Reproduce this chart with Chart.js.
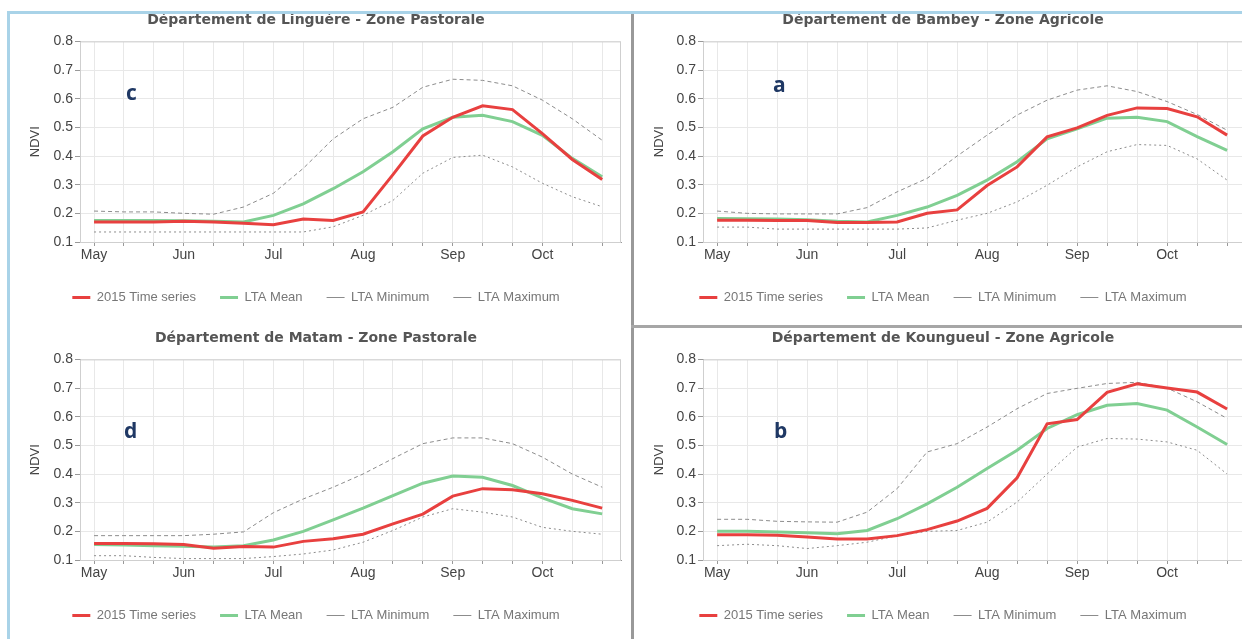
<!DOCTYPE html>
<html>
<head>
<meta charset="utf-8">
<script src="https://cdn.jsdelivr.net/npm/chart.js@4.4.1/dist/chart.umd.min.js"></script>
<style>
  html, body { margin: 0; padding: 0; background: #fff; }
  body { width: 1242px; height: 639px; position: relative; overflow: hidden; }
  canvas { position: absolute; }
  .line { position: absolute; z-index: 5; }
  .tag { position: absolute; z-index: 6; font: bold 21px "Open Sans", sans-serif; color: #1f3864; line-height: 1; }
</style>
</head>
<body>
<canvas id="chart-c" width="632" height="320" style="left:0;top:0"></canvas>
<canvas id="chart-a" width="614" height="320" style="left:636px;top:0"></canvas>
<canvas id="chart-d" width="632" height="320" style="left:0;top:318px"></canvas>
<canvas id="chart-b" width="614" height="320" style="left:636px;top:318px"></canvas>

<div class="line" style="left:7px;top:11px;width:1235px;height:3px;background:#a9d3e8"></div>
<div class="line" style="left:7px;top:11px;width:3px;height:628px;background:#a9d3e8"></div>
<div class="line" style="left:631px;top:14px;width:3px;height:625px;background:#999"></div>
<div class="line" style="left:631px;top:325px;width:611px;height:3px;background:#a6a6a6"></div>

<div class="tag" style="left:126px;top:82px">c</div>
<div class="tag" style="left:773px;top:74px">a</div>
<div class="tag" style="left:124px;top:420px">d</div>
<div class="tag" style="left:774px;top:420px">b</div>

<script>
// dekads May 1 .. Oct 21
var dekads = ['May 1', 'May 11', 'May 21', 'Jun 1', 'Jun 11', 'Jun 21', 'Jul 1', 'Jul 11', 'Jul 21',
              'Aug 1', 'Aug 11', 'Aug 21', 'Sep 1', 'Sep 11', 'Sep 21', 'Oct 1', 'Oct 11', 'Oct 21'];
var monthTicks = ['May', 'Jun', 'Jul', 'Aug', 'Sep', 'Oct'];
var seriesNames = ['2015 Time series', 'LTA Mean', 'LTA Minimum', 'LTA Maximum'];

// Linguere - Zone Pastorale (c)
var linguereTS   = [0.17, 0.17, 0.17, 0.172, 0.17, 0.165, 0.16, 0.18, 0.175, 0.205, 0.335, 0.47, 0.535, 0.575, 0.562, 0.478, 0.388, 0.318];
var linguereMean = [0.175, 0.175, 0.175, 0.174, 0.172, 0.17, 0.193, 0.233, 0.286, 0.345, 0.415, 0.495, 0.535, 0.542, 0.52, 0.472, 0.392, 0.328];
var linguereMin  = [0.135, 0.135, 0.135, 0.135, 0.135, 0.135, 0.135, 0.135, 0.153, 0.193, 0.245, 0.34, 0.395, 0.403, 0.362, 0.305, 0.258, 0.223];
var linguereMax  = [0.208, 0.205, 0.205, 0.2, 0.197, 0.222, 0.27, 0.357, 0.46, 0.53, 0.57, 0.64, 0.668, 0.664, 0.645, 0.595, 0.53, 0.455];

// Bambey - Zone Agricole (a)
var bambeyTS   = [0.176, 0.176, 0.175, 0.175, 0.168, 0.168, 0.17, 0.2, 0.212, 0.297, 0.362, 0.467, 0.498, 0.542, 0.568, 0.566, 0.537, 0.473];
var bambeyMean = [0.182, 0.181, 0.18, 0.178, 0.172, 0.17, 0.193, 0.222, 0.263, 0.316, 0.38, 0.46, 0.495, 0.532, 0.535, 0.52, 0.468, 0.42];
var bambeyMin  = [0.152, 0.152, 0.145, 0.145, 0.145, 0.145, 0.145, 0.149, 0.176, 0.2, 0.24, 0.298, 0.362, 0.415, 0.44, 0.437, 0.39, 0.316];
var bambeyMax  = [0.208, 0.2, 0.198, 0.198, 0.198, 0.22, 0.275, 0.322, 0.4, 0.473, 0.543, 0.595, 0.63, 0.645, 0.625, 0.59, 0.545, 0.49];

// Matam - Zone Pastorale (d)
var matamTS   = [0.158, 0.158, 0.157, 0.154, 0.141, 0.147, 0.145, 0.165, 0.174, 0.19, 0.226, 0.26, 0.323, 0.349, 0.345, 0.331, 0.308, 0.281];
var matamMean = [0.154, 0.152, 0.15, 0.148, 0.145, 0.15, 0.17, 0.2, 0.24, 0.281, 0.325, 0.368, 0.393, 0.389, 0.36, 0.317, 0.279, 0.261];
var matamMin  = [0.115, 0.115, 0.109, 0.105, 0.105, 0.105, 0.112, 0.121, 0.135, 0.162, 0.203, 0.25, 0.279, 0.267, 0.25, 0.214, 0.2, 0.19];
var matamMax  = [0.185, 0.185, 0.185, 0.185, 0.19, 0.198, 0.265, 0.313, 0.354, 0.4, 0.454, 0.506, 0.526, 0.526, 0.506, 0.459, 0.4, 0.354];

// Koungueul - Zone Agricole (b)
var koungueulTS   = [0.188, 0.188, 0.186, 0.18, 0.173, 0.173, 0.185, 0.206, 0.236, 0.28, 0.387, 0.575, 0.59, 0.685, 0.715, 0.7, 0.686, 0.627];
var koungueulMean = [0.2, 0.2, 0.198, 0.195, 0.192, 0.203, 0.244, 0.296, 0.354, 0.419, 0.483, 0.559, 0.607, 0.64, 0.646, 0.623, 0.564, 0.503];
var koungueulMin  = [0.15, 0.155, 0.15, 0.14, 0.15, 0.162, 0.185, 0.2, 0.203, 0.232, 0.302, 0.4, 0.494, 0.524, 0.522, 0.512, 0.483, 0.4];
var koungueulMax  = [0.242, 0.242, 0.235, 0.233, 0.232, 0.267, 0.349, 0.477, 0.506, 0.564, 0.628, 0.681, 0.699, 0.716, 0.72, 0.7, 0.652, 0.594];

function pts(arr) {
    return arr.map(function(v, i) { return {x: i, y: v}; });
}

// thin frame round the plot area
var plotFrame = {
    id: 'plotFrame',
    afterDraw: function(chart) {
        var a = chart.chartArea, ctx = chart.ctx;
        ctx.save();
        ctx.strokeStyle = '#cfcfcf';
        ctx.lineWidth = 1;
        ctx.strokeRect(a.left + 0.5, a.top + 0.5, a.right - a.left - 1, a.bottom - a.top);
        ctx.restore();
    }
};

function makePanel(id, title, ts, mean, min, max, yAxisW, ndviPad, padSide) {
    new Chart(document.getElementById(id), {
        type: 'line',
        data: {
            datasets: [{
                label: seriesNames[0], data: pts(ts),
                borderColor: '#e8403f', backgroundColor: '#e8403f', borderWidth: 3
            }, {
                label: seriesNames[1], data: pts(mean),
                borderColor: '#80cf92', backgroundColor: '#80cf92', borderWidth: 3
            }, {
                label: seriesNames[2], data: pts(min),
                borderColor: '#8c8c8c', backgroundColor: '#8c8c8c', borderWidth: 1, borderDash: [2, 3]
            }, {
                label: seriesNames[3], data: pts(max),
                borderColor: '#8c8c8c', backgroundColor: '#8c8c8c', borderWidth: 1, borderDash: [4, 3]
            }]
        },
        options: {
            responsive: false,
            animation: false,
            devicePixelRatio: 1,
            elements: { point: { radius: 0 }, line: { tension: 0 } },
            layout: { padding: { left: padSide, right: padSide, top: 0, bottom: 6 } },
            plugins: {
                title: {
                    display: true,
                    text: title,
                    color: '#555',
                    font: { family: 'DejaVu Sans', size: 14, weight: 'bold' },
                    padding: { top: 12, bottom: 12.6 }
                },
                legend: {
                    position: 'bottom',
                    labels: {
                        usePointStyle: true,
                        pointStyle: 'line',
                        pointStyleWidth: 18,
                        padding: 24,
                        color: '#777',
                        font: { family: 'Liberation Sans', size: 13 }
                    }
                },
                tooltip: { enabled: false }
            },
            scales: {
                x: {
                    type: 'linear',
                    min: -0.47,
                    max: 17.63,
                    afterBuildTicks: function(s) {
                        s.ticks = dekads.map(function(d, i) { return {value: i}; });
                    },
                    afterFit: function(s) { s.height = 25; },
                    ticks: {
                        autoSkip: false,
                        maxRotation: 0,
                        padding: 1,
                        color: '#444',
                        font: { family: 'Liberation Sans', size: 14 },
                        callback: function(v) { return v % 3 === 0 ? monthTicks[v / 3] : ''; }
                    },
                    grid: { color: '#e8e8e8', tickColor: '#999', tickLength: 4 },
                    border: { color: '#999' }
                },
                y: {
                    min: 0.1,
                    max: 0.8,
                    afterFit: function(s) { s.width = yAxisW; },
                    ticks: {
                        stepSize: 0.1,
                        padding: 2,
                        color: '#444',
                        font: { family: 'Liberation Sans', size: 14 },
                        callback: function(v) { return v.toFixed(1); }
                    },
                    grid: { color: '#e8e8e8', tickColor: '#999', tickLength: 5 },
                    border: { color: '#999' },
                    title: {
                        display: true,
                        text: 'NDVI',
                        color: '#444',
                        font: { family: 'Liberation Sans', size: 13 },
                        padding: { top: ndviPad, bottom: 0 }
                    }
                }
            }
        },
        plugins: [plotFrame]
    });
}

makePanel('chart-c', 'Département de Linguère - Zone Pastorale', linguereTS, linguereMean, linguereMin, linguereMax, 69, 17, 11);
makePanel('chart-a', 'Département de Bambey - Zone Agricole', bambeyTS, bambeyMean, bambeyMin, bambeyMax, 63, 12, 4);
makePanel('chart-d', 'Département de Matam - Zone Pastorale', matamTS, matamMean, matamMin, matamMax, 69, 17, 11);
makePanel('chart-b', 'Département de Koungueul - Zone Agricole', koungueulTS, koungueulMean, koungueulMin, koungueulMax, 63, 12, 4);
</script>
</body>
</html>
